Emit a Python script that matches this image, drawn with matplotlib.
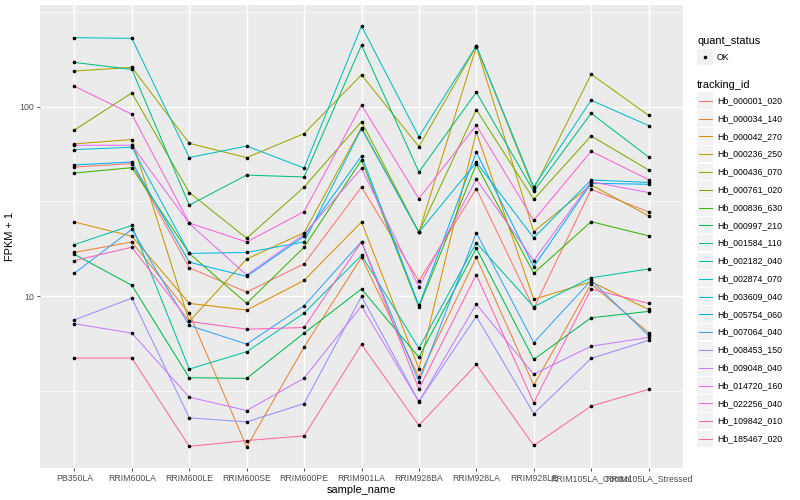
import numpy as np
import matplotlib; matplotlib.use('Agg')
import matplotlib.pyplot as plt
from matplotlib.lines import Line2D
from matplotlib.patches import Rectangle

plt.rcParams['font.family'] = ['Liberation Sans', 'DejaVu Sans']

samples = ['PB350LA', 'RRIM600LA', 'RRIM600LE', 'RRIM600SE', 'RRIM600PE', 'RRIM901LA',
           'RRIM928BA', 'RRIM928LA', 'RRIM928LE', 'RRIM105LA_Control', 'RRIM105LA_Stressed']

ids = ['Hb_000001_020', 'Hb_000034_140', 'Hb_000042_270', 'Hb_000236_250', 'Hb_000436_070',
       'Hb_000761_020', 'Hb_000836_630', 'Hb_000997_210', 'Hb_001584_110', 'Hb_002182_040',
       'Hb_002874_070', 'Hb_003609_040', 'Hb_005754_060', 'Hb_007064_040', 'Hb_008453_150',
       'Hb_009048_040', 'Hb_014720_160', 'Hb_022256_040', 'Hb_109842_010', 'Hb_185467_020']

hue = ['#F8766D', '#EA8331', '#D89000', '#C09B00', '#A3A500', '#7CAE00', '#39B600', '#00BB4E',
       '#00BF7D', '#00C1A3', '#00BFC4', '#00BAE0', '#00B0F6', '#35A2FF', '#9590FF', '#C77CFF',
       '#E76BF3', '#FA62DB', '#FF62BC', '#FF6C91']

# FPKM + 1, one row per tracking_id, columns follow `samples`
fpkm = [
    [48.0, 50.0, 14.1, 10.5, 14.8, 37.6, 12.0, 36.9, 8.61, 36.6, 27.8],
    [17.0, 19.3, 8.10, 1.60, 5.38, 16.0, 3.74, 16.0, 3.39, 11.6, 6.41],
    [24.6, 20.7, 9.15, 8.44, 12.1, 24.6, 4.14, 73.4, 9.61, 11.9, 8.51],
    [63.6, 67.0, 7.35, 15.7, 21.6, 77.5, 21.7, 207, 21.9, 38.6, 26.5],
    [154, 161, 64.0, 53.8, 72.0, 147, 61.5, 208, 36.6, 148, 89.9],
    [75.2, 118, 35.2, 20.2, 37.6, 83.3, 21.7, 96.4, 32.4, 70.0, 46.3],
    [44.6, 47.6, 16.8, 9.15, 18.1, 52.2, 8.75, 49.6, 13.2, 24.7, 20.8],
    [16.6, 11.4, 3.71, 3.68, 6.38, 10.9, 4.76, 17.9, 4.63, 7.69, 8.30],
    [171, 157, 30.2, 43.5, 42.5, 211, 45.2, 119, 35.7, 92.2, 54.2],
    [18.7, 23.6, 4.12, 5.09, 8.13, 16.4, 5.31, 19.1, 8.79, 12.5, 13.9],
    [231, 229, 53.8, 61.9, 47.4, 266, 69.4, 209, 37.7, 108, 79.4],
    [59.3, 61.0, 16.8, 17.0, 19.3, 76.5, 21.7, 50.8, 20.3, 41.0, 39.8],
    [49.2, 51.0, 15.1, 12.7, 20.7, 54.9, 8.93, 57.4, 14.3, 39.4, 38.9],
    [13.2, 22.5, 7.00, 5.58, 8.90, 19.4, 3.53, 21.6, 5.68, 12.1, 6.20],
    [7.49, 9.76, 2.28, 2.17, 2.71, 9.96, 2.78, 7.81, 2.40, 4.69, 5.84],
    [7.15, 6.38, 2.93, 2.49, 3.69, 8.86, 2.77, 9.07, 3.87, 5.44, 6.05],
    [62.5, 62.5, 24.2, 12.9, 21.2, 47.2, 11.2, 41.3, 15.4, 40.1, 35.2],
    [128, 91.1, 24.3, 19.3, 27.9, 102, 32.7, 79.7, 25.1, 58.1, 41.2],
    [15.4, 18.1, 7.35, 6.69, 6.83, 19.3, 3.23, 13.0, 2.74, 10.9, 9.15],
    [4.71, 4.71, 1.61, 1.73, 1.83, 5.56, 2.08, 4.36, 1.63, 2.63, 3.22],
]

W, H = 800, 500
fig = plt.figure(figsize=(8, 5), dpi=100)
ax = fig.add_axes([40 / W, 32 / H, 643 / W, 463 / H])
ax.set_facecolor('#EBEBEB')
for s in ax.spines.values():
    s.set_visible(False)

x = np.arange(len(samples))
for vals, col in zip(fpkm, hue):
    ax.plot(x, vals, color=col, lw=0.75, zorder=3)
for vals in fpkm:
    ax.plot(x, vals, 'o', color='black', ms=2.6, mew=0, zorder=4)

ax.set_yscale('log')
lv = np.log10(np.array(fpkm))
pad = 0.05 * (lv.max() - lv.min())
ax.set_ylim(10 ** (lv.min() - pad), 10 ** (lv.max() + pad))
ax.set_xlim(-0.6, len(samples) - 0.4)

ax.set_yticks([10, 100])
ax.set_yticklabels(['10', '100'])
ax.set_yticks([10 ** 0.5, 10 ** 1.5, 10 ** 2.5], minor=True)
ax.yaxis.set_minor_formatter(plt.NullFormatter())
ax.set_xticks(x)
ax.set_xticklabels(samples)
ax.tick_params(axis='both', which='major', length=2.5, width=0.6, color='#333333',
               labelsize=6.3, labelcolor='#4D4D4D', pad=2)
ax.tick_params(axis='y', which='minor', length=0)
ax.grid(True, which='major', color='white', lw=1.0, zorder=0)
ax.grid(True, which='minor', axis='y', color='white', lw=0.5, zorder=0)
ax.set_axisbelow(True)
ax.set_xlabel('sample_name', fontsize=7.9, labelpad=1)
ax.set_ylabel('FPKM + 1', fontsize=7.9, labelpad=3)

# legends, drawn in figure pixel coordinates
def fx(px):
    return px / W
def fy(py):
    return 1 - py / H

fig.text(fx(697), fy(41), 'quant_status', fontsize=7.9, va='center', ha='left')
fig.add_artist(Rectangle((fx(697), fy(65)), 16 / W, 16 / H, transform=fig.transFigure,
                         facecolor='#F2F2F2', edgecolor='none'))
fig.add_artist(Line2D([fx(705)], [fy(57)], marker='o', color='black', ms=2.6, mew=0,
                      transform=fig.transFigure))
fig.text(fx(717), fy(57), 'OK', fontsize=6.3, va='center', ha='left')

fig.text(fx(697), fy(85), 'tracking_id', fontsize=7.9, va='center', ha='left')
step = 17.8
for i, (name, col) in enumerate(zip(ids, hue)):
    cy = 100.7 + i * step
    fig.add_artist(Rectangle((fx(697), fy(cy + 8.3)), 16 / W, 16.6 / H,
                             transform=fig.transFigure, facecolor='#F2F2F2', edgecolor='none'))
    fig.add_artist(Line2D([fx(698.5), fx(711.5)], [fy(cy), fy(cy)], color=col, lw=0.75,
                          transform=fig.transFigure))
    fig.text(fx(717), fy(cy), name, fontsize=6.3, va='center', ha='left')

fig.savefig('out.png', dpi=100)
